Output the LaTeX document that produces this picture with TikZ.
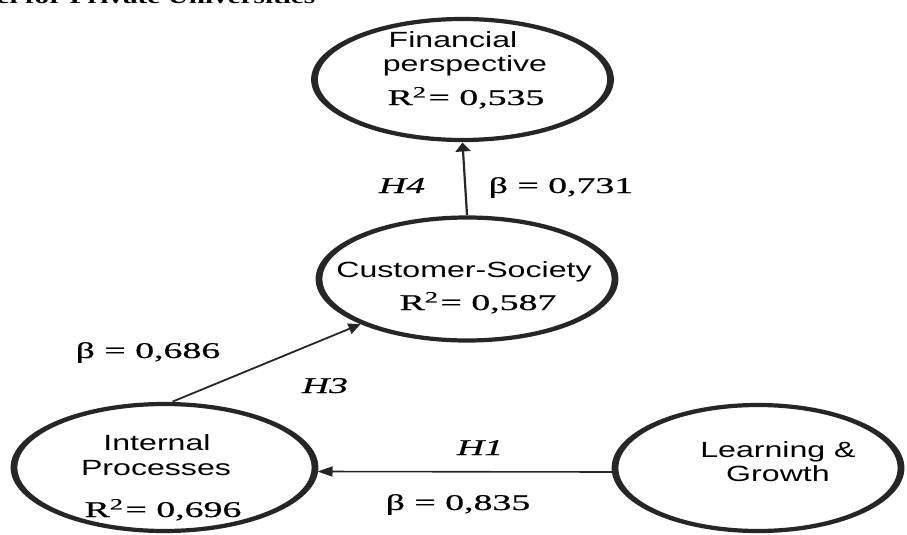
\documentclass[tikz,border=0pt]{standalone}
\usepackage{fontspec}
\setmainfont{Liberation Serif}
\newfontfamily\sansf{Liberation Sans}
\newfontfamily\mathf[FakeBold=0.5]{Liberation Serif}
\usetikzlibrary{shapes.geometric,arrows.meta}
\newcommand{\strS}[1]{\scalebox{1.46}[1]{#1}}
\newcommand{\strM}[1]{\scalebox{1.68}[1]{#1}}
\newcommand{\ringat}[3]{%
  \fill[black!85, even odd rule] (#1.center) ellipse [x radius=#2+3.4, y radius=#3+2.1]
                                 (#1.center) ellipse [x radius=#2-3.4, y radius=#3-2.1];}
\tikzset{
  oval/.style={ellipse, draw=none, inner sep=0pt, outer sep=2.5pt},
  lab/.style={inner sep=0pt, anchor=base},
  sanslab/.style={lab, font=\sansf\fontsize{22}{26}\selectfont},
  mathlab/.style={lab, font=\mathf\fontsize{22.5}{27}\selectfont},
  conn/.style={draw=black!85, line width=1.8pt},
}
\begin{document}
\begin{tikzpicture}[x=1pt,y=1pt]
\useasboundingbox (0,0) rectangle (907,-535);
\clip (0,0) rectangle (907,-535);
% title (cut off at the top)
\node[inner sep=0pt, anchor=base west, font=\bfseries\fontsize{20}{24}\selectfont] (title) at (-62,-4) {\strS{Model for Private Universities}};
% ovals
\node[oval, minimum width=296pt, minimum height=121pt] (fin) at (462.5,-79.5) {};
\node[oval, minimum width=296pt, minimum height=123pt] (cust) at (467,-279) {};
\node[oval, minimum width=301pt, minimum height=127pt] (int) at (164.5,-467.5) {};
\node[oval, minimum width=286pt, minimum height=126pt] (learn) at (758,-468) {};
\ringat{fin}{148}{60.5}
\ringat{cust}{148}{61.5}
\ringat{int}{150.5}{63.5}
\ringat{learn}{143}{63}
% texts in ovals
\node[sanslab] (finA) at (453,-48) {\strS{Financial}};
\node[sanslab] (finB) at (465,-71) {\strS{perspective}};
\node[mathlab] (finR) at (466,-105) {\strM{R\textsuperscript{2}\kern1pt= 0,535}};
\node[sanslab] (custA) at (464,-277) {\strS{Customer-Society}};
\node[mathlab] (custR) at (478,-310) {\strM{R\textsuperscript{2}\kern1pt= 0,587}};
\node[sanslab] (intA) at (157,-450) {\strS{Internal}};
\node[sanslab] (intB) at (156,-475) {\strS{Processes}};
\node[mathlab] (intR) at (163,-517) {\strM{R\textsuperscript{2}\kern1pt= 0,696}};
\node[sanslab] (learnA) at (778,-457) {\strS{Learning \&}};
\node[sanslab] (learnB) at (778,-481) {\strS{Growth}};
% connectors
\draw[conn, line width=2.2pt, -{Triangle[length=9pt,width=15pt]}] (cust.north) -- (fin.south);
\draw[conn, -{Triangle[length=12pt,width=11pt]}] (int.83) -- (cust.203);
\draw[conn, line width=1.6pt, -{Triangle[length=15pt,width=10pt]}] ([yshift=-4pt]learn.west) -- ([yshift=-4pt]int.east);
% connector labels
\node[mathlab] (h4) at (402,-193) {\strM{\itshape H4}};
\node[mathlab] (b4) at (561,-193) {\strM{β = 0,731}};
\node[mathlab] (b3) at (148,-358) {\strM{β = 0,686}};
\node[mathlab] (h3) at (325,-393) {\strM{\itshape H3}};
\node[mathlab] (h1) at (480,-455) {\strM{\itshape H1}};
\node[mathlab] (b1) at (458,-510) {\strM{β = 0,835}};
\end{tikzpicture}
\end{document}
